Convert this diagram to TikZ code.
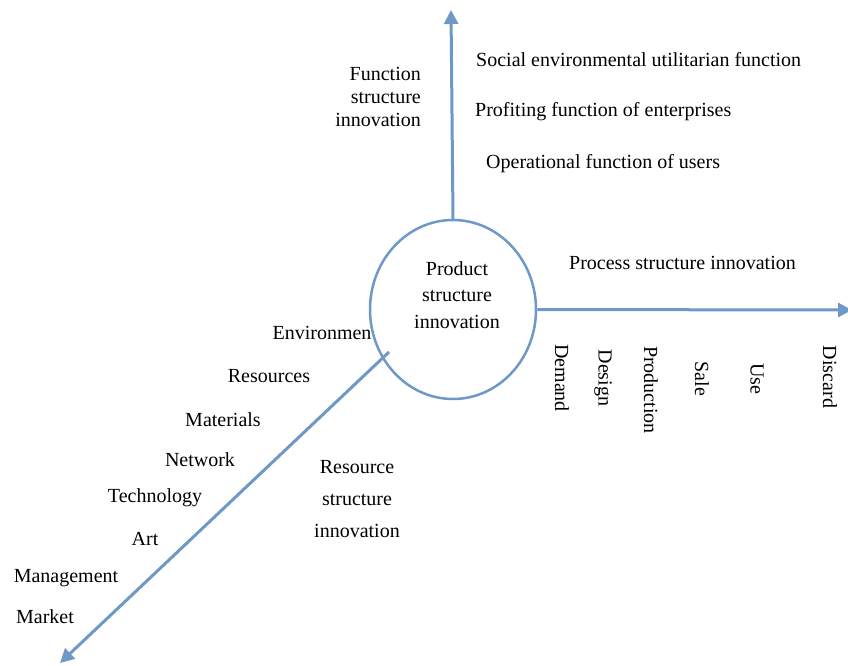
\documentclass[tikz,border=0pt]{standalone}
\usepackage{fontspec}
\setmainfont{Liberation Serif}
\usetikzlibrary{shapes.geometric,arrows.meta}
\definecolor{axisblue}{RGB}{110,152,198}

\begin{document}
\begin{tikzpicture}[x=1pt,y=-1pt,>={Triangle[length=14pt,width=14pt]},
  axis/.style={->,draw=axisblue,line width=3pt},
  lbl/.style={font=\fontsize{20}{23}\selectfont,inner sep=0pt},
  vlbl/.style={lbl,rotate=-90}]
\useasboundingbox (0,0) rectangle (848,665);
% labels along the left axis
\node[lbl] (env) at (322,333) {Environmen};
\node[lbl] (res) at (269,376) {Resources};
\node[lbl] (mat) at (223,420) {Materials};
\node[lbl] (net) at (200,460) {Network};
\node[lbl] (tech) at (155,498) {Technology};
\node[lbl] (art) at (145,539) {Art};
\node[lbl] (man) at (66,578) {Management};
\node[lbl] (mkt) at (45,617) {Market};
\node[lbl,align=center,font=\fontsize{20}{32}\selectfont] (resinn) at (357,499) {Resource\\structure\\innovation};
% the center
\node[ellipse,draw=axisblue,line width=2.5pt,minimum width=166pt,minimum height=179pt,inner sep=0pt] (prod) at (453,309.5) {};
\node[lbl,align=center,font=\fontsize{20}{26.5}\selectfont] (prodtxt) at (457,295) {Product\\structure\\innovation};
\coordinate (ftip) at (451,10);
\coordinate (ptip) at (852,310);
\coordinate (rtip) at (60,663);
\coordinate (rstart) at (389,352);
\draw[axis] (prod.north) -- (ftip);
\draw[axis] (prod.east) -- (ptip);
\draw[axis] (rstart) -- (rtip);
% function axis
\node[lbl,align=right,anchor=east] (funinn) at (421,97) {Function\\structure\\innovation};
\node[lbl,anchor=west] (social) at (476,60) {Social environmental utilitarian function};
\node[lbl,anchor=west] (profit) at (475,112) {Profiting function of enterprises};
\node[lbl,anchor=west] (oper) at (486,164) {Operational function of users};
% process axis
\node[lbl,anchor=west] (procinn) at (569,263) {Process structure innovation};
\node[vlbl] (dem) at (562,378) {Demand};
\node[vlbl] (des) at (603,378) {Design};
\node[vlbl] (pro) at (651,390) {Production};
\node[vlbl] (sale) at (702,379) {Sale};
\node[vlbl] (use) at (757,379) {Use};
\node[vlbl] (disc) at (830,377) {Discard};
\end{tikzpicture}
\end{document}
